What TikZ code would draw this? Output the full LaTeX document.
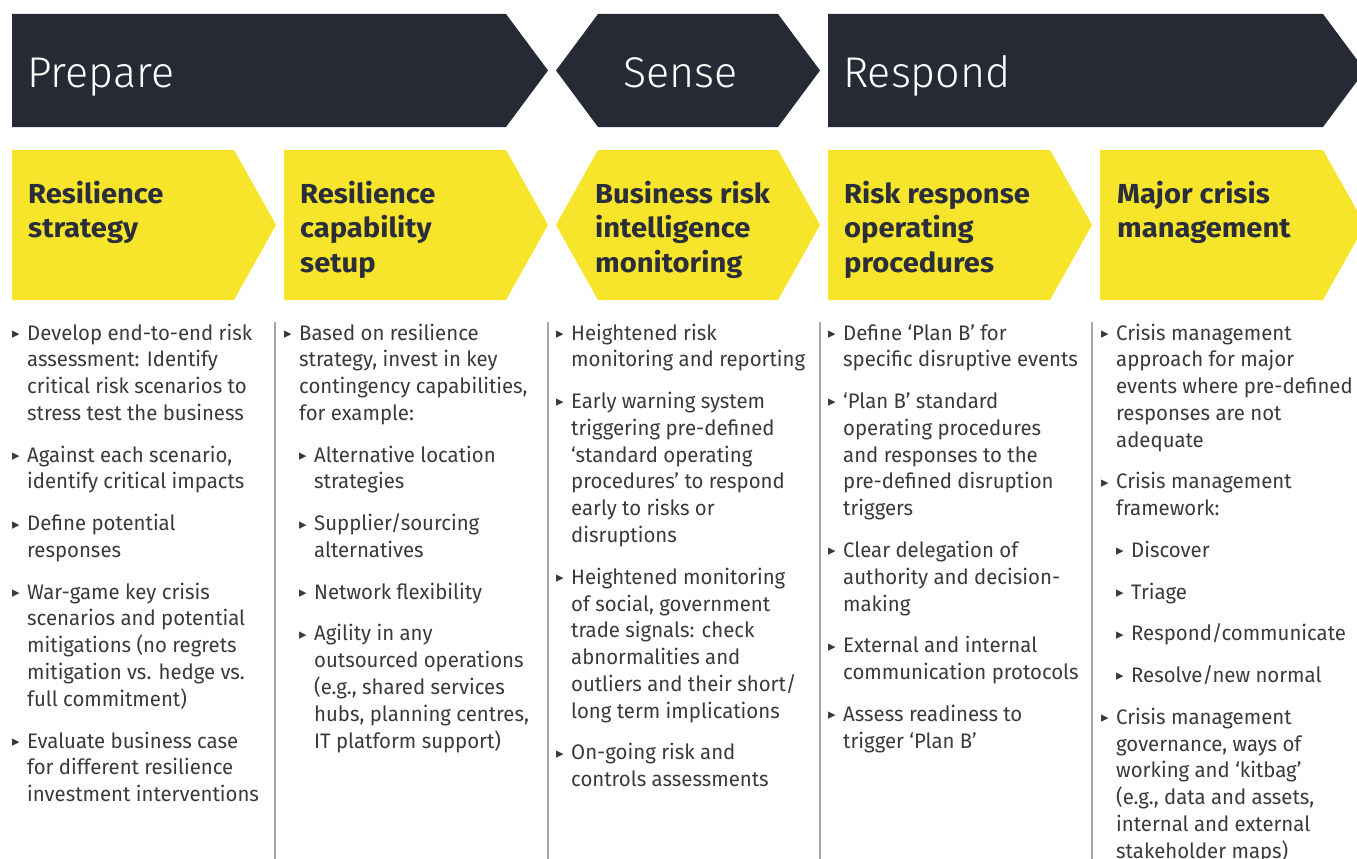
\documentclass[tikz,border=0pt]{standalone}
\usepackage{fontspec}
\setmainfont[FakeStretch=0.97]{Fira Sans}
\newfontfamily\headfont[FakeStretch=1.06]{Fira Sans}
\newfontfamily\lightfont{Fira Sans Light}
\newfontfamily\symfont{DejaVu Sans}

\definecolor{bannerdark}{HTML}{262A35}
\definecolor{eyyellow}{HTML}{F6E52A}
\definecolor{bodytext}{HTML}{3A3A3A}
\definecolor{headtext}{HTML}{2A2E3A}
\definecolor{rulegray}{HTML}{A6A6A6}

% bullet marks and list helpers
\newcommand\bulmark{\raisebox{1.6pt}{\symfont\fontsize{15}{15}\selectfont\color{bodytext}▸}}
\newcommand\itm{\leavevmode\llap{\makebox[15pt][l]{\bulmark}}}
\newcommand\ind{\hspace*{15pt}}
\newcommand\subitm{\ind\itm}
\newcommand\pgap{\\[14.9pt]}
\newcommand\colbox[2]{\parbox[t]{#1}{\raggedright #2}}

\tikzset{
  bannershape/.style={fill=bannerdark, draw=none},
  stageshape/.style={fill=eyyellow, draw=none},
  phase/.style={anchor=base west, inner sep=0pt, text=white,
    font=\lightfont\fontsize{43}{50}\selectfont},
  heading/.style={anchor=base west, inner sep=0pt, text=headtext,
    font=\headfont\bfseries\fontsize{27.5}{34.6}\selectfont},
  body/.style={anchor=base west, inner sep=0pt, text=bodytext,
    font=\fontsize{21}{26.8}\selectfont},
  divider/.style={draw=rulegray, line width=1.2pt}
}

\begin{document}
\begin{tikzpicture}[x=1pt, y=-1pt]
\useasboundingbox (0,0) rectangle (1357,859);
\clip (0,0) rectangle (1357,859);

% phase banners
\fill[bannershape] (12,14) -- (506,14) -- (548,70.5) -- (506,127) -- (12,127) -- cycle;
\fill[bannershape] (556,70.5) -- (598,14) -- (778,14) -- (820,70.5) -- (778,127) -- (598,127) -- cycle;
\fill[bannershape] (828,14) -- (1323,14) -- (1365,70.5) -- (1323,127) -- (828,127) -- cycle;

\node[phase] (prepare) at (27,88) {Prepare};
\node[phase] (sense) at (623,88) {Sense};
\node[phase] (respond) at (843,88) {Respond};

% stage chevrons
\fill[stageshape] (12,150) -- (234,150) -- (276,225) -- (234,300) -- (12,300) -- cycle;
\fill[stageshape] (284,150) -- (506,150) -- (548,225) -- (506,300) -- (284,300) -- cycle;
\fill[stageshape] (556,225) -- (598,150) -- (778,150) -- (820,225) -- (778,300) -- (598,300) -- cycle;
\fill[stageshape] (828,150) -- (1050,150) -- (1092,225) -- (1050,300) -- (828,300) -- cycle;
\fill[stageshape] (1100,150) -- (1323,150) -- (1365,225) -- (1323,300) -- (1100,300) -- cycle;

\node[heading] (h1) at (28,203) {\colbox{240pt}{Resilience\\strategy}};
\node[heading] (h2) at (300,203) {\colbox{240pt}{Resilience\\capability\\setup}};
\node[heading] (h3) at (595,203) {\colbox{240pt}{Business risk\\intelligence\\monitoring}};
\node[heading] (h4) at (844,203) {\colbox{240pt}{Risk response\\operating\\procedures}};
\node[heading] (h5) at (1117,203) {\colbox{240pt}{Major crisis\\management}};

% column dividers
\draw[divider] (275,322) -- (275,859);
\draw[divider] (548,322) -- (548,859);
\draw[divider] (820,322) -- (820,859);
\draw[divider] (1092,322) -- (1092,859);

% column texts
\node[body] (c1) at (27,340) {\colbox{250pt}{%
\itm Develop end-to-end risk\\
assessment: Identify\\
critical risk scenarios to\\
stress test the business\pgap
\itm Against each scenario,\\
identify critical impacts\pgap
\itm Define potential\\
responses\pgap
\itm War-game key crisis\\
scenarios and potential\\
mitigations (no regrets\\
mitigation vs. hedge vs.\\
full commitment)\pgap
\itm Evaluate business case\\
for different resilience\\
investment interventions}};

\node[body] (c2) at (299,340) {\colbox{250pt}{%
\itm Based on resilience\\
strategy, invest in key\\
contingency capabilities,\\
for example:\pgap
\subitm Alternative location\\
\ind strategies\pgap
\subitm Supplier/sourcing\\
\ind alternatives\pgap
\subitm Network flexibility\pgap
\subitm Agility in any\\
\ind outsourced operations\\
\ind (e.g., shared services\\
\ind hubs, planning centres,\\
\ind IT platform support)}};

\node[body] (c3) at (571,340) {\colbox{250pt}{%
\itm Heightened risk\\
monitoring and reporting\pgap
\itm Early warning system\\
triggering pre-defined\\
‘standard operating\\
procedures’ to respond\\
early to risks or\\
disruptions\pgap
\itm Heightened monitoring\\
of social, government\\
trade signals: check\\
abnormalities and\\
outliers and their short/\\
long term implications\pgap
\itm On-going risk and\\
controls assessments}};

\node[body] (c4) at (843,340) {\colbox{250pt}{%
\itm Define ‘Plan B’ for\\
specific disruptive events\pgap
\itm ‘Plan B’ standard\\
operating procedures\\
and responses to the\\
pre-defined disruption\\
triggers\pgap
\itm Clear delegation of\\
authority and decision-\\
making\pgap
\itm External and internal\\
communication protocols\pgap
\itm Assess readiness to\\
trigger ‘Plan B’}};

\node[body] (c5) at (1116,340) {\colbox{250pt}{%
\itm Crisis management\\
approach for major\\
events where pre-defined\\
responses are not\\
adequate\pgap
\itm Crisis management\\
framework:\pgap
\subitm Discover\pgap
\subitm Triage\pgap
\subitm Respond/communicate\pgap
\subitm Resolve/new normal\pgap
\itm Crisis management\\
governance, ways of\\
working and ‘kitbag’\\
(e.g., data and assets,\\
internal and external\\
stakeholder maps)}};
\end{tikzpicture}
\end{document}
